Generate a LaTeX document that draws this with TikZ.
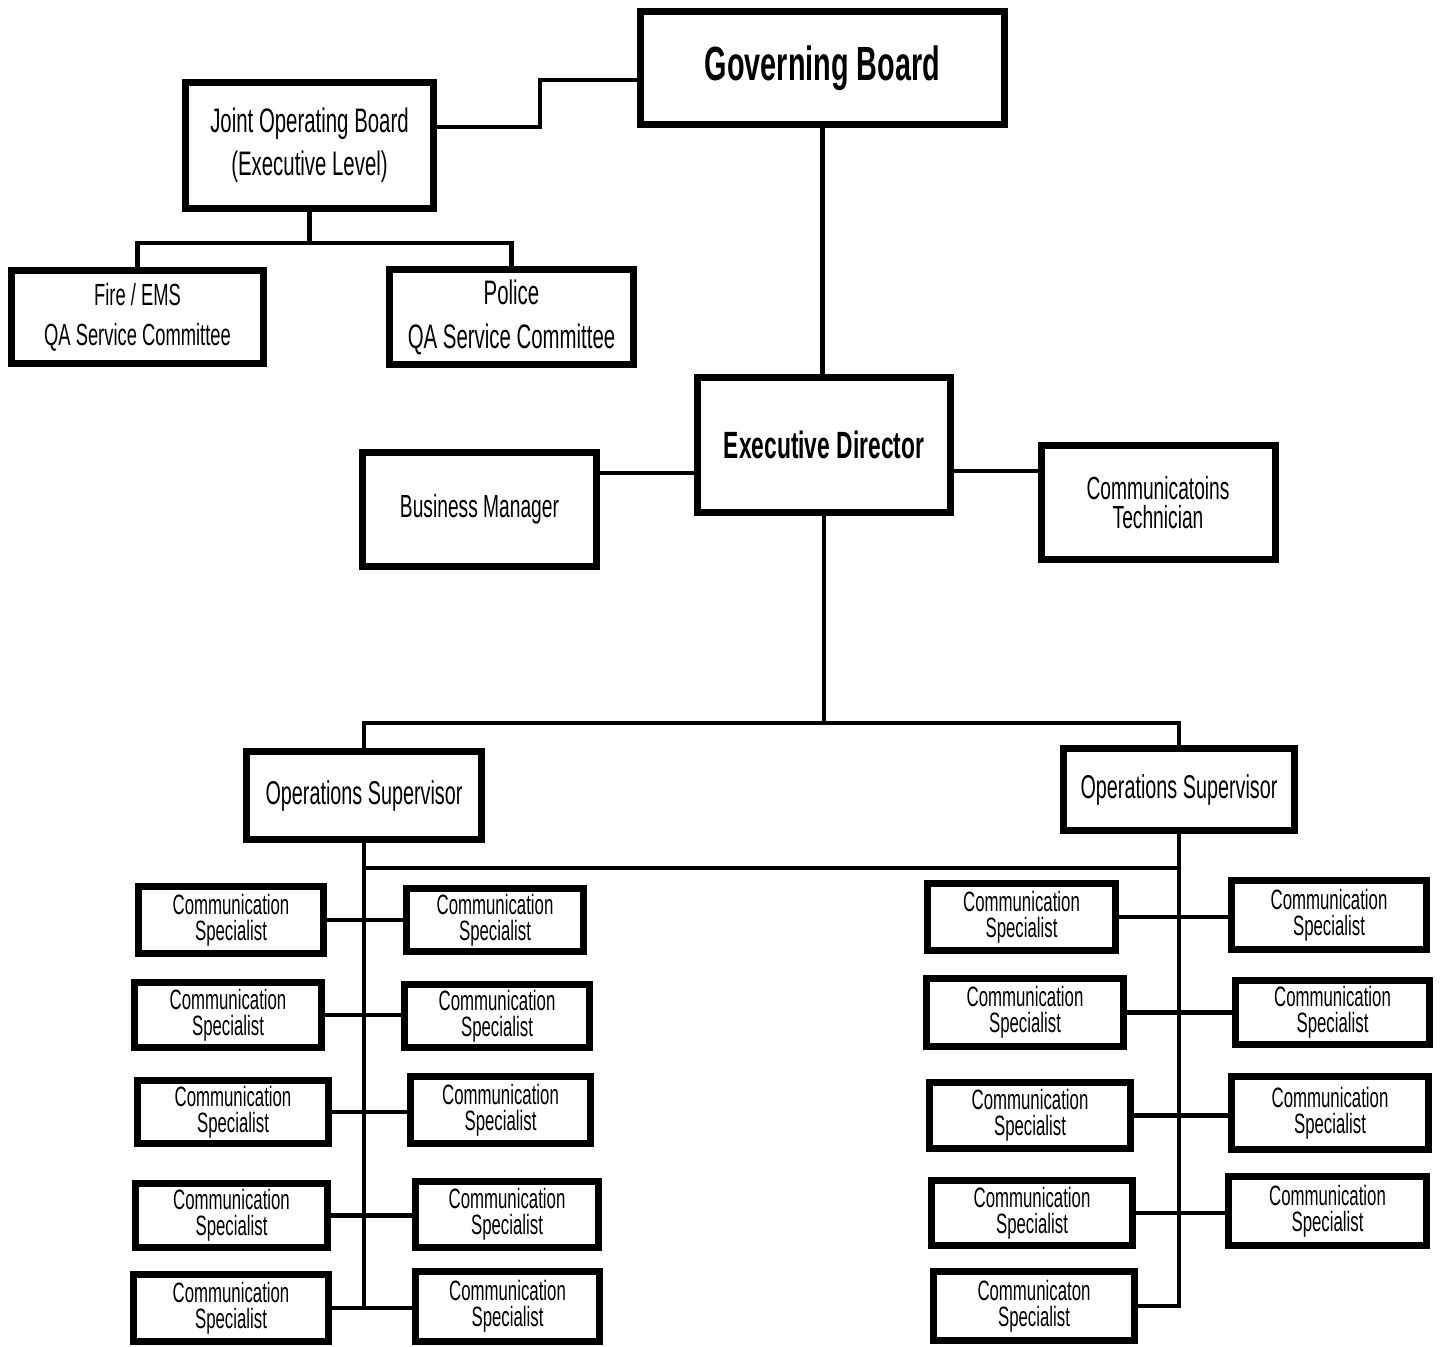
\documentclass[tikz,border=0pt]{standalone}
\usepackage{fontspec}
\setmainfont{Liberation Sans}[FakeStretch=0.6]

\tikzset{
  box/.style={draw, line width=3.5pt, align=center, inner sep=0pt},
  spec/.style={box, font=\fontsize{14}{13}\selectfont},
  link/.style={line width=2.2pt},
}

\begin{document}
\begin{tikzpicture}[x=0.5pt, y=-0.5pt]
    \useasboundingbox (0,0) rectangle (1441,1347);

    % boards
    \node[box, minimum width=182pt, minimum height=56.5pt,
      font=\bfseries\fontsize{24}{26}\selectfont] (GB) at (822.5,68) {Governing Board};
    \node[box, minimum width=124pt, minimum height=63pt,
      font=\fontsize{17}{21.5}\selectfont] (JOB) at (309.5,145.5)
      {Joint Operating Board\\(Executive Level)};
    \node[box, minimum width=126pt, minimum height=46.5pt,
      font=\fontsize{15.3}{20}\selectfont] (FE) at (137.5,317)
      {Fire / EMS\\QA Service Committee};
    \node[box, minimum width=122pt, minimum height=47.5pt,
      font=\fontsize{17}{22}\selectfont] (PO) at (511.5,317)
      {Police\\QA Service Committee};

    % director level
    \node[box, minimum width=126.5pt, minimum height=67.5pt,
      font=\bfseries\fontsize{19}{21}\selectfont] (ED) at (824,445) {Executive Director};
    \node[box, minimum width=117pt, minimum height=57pt,
      font=\fontsize{16}{18}\selectfont] (BM) at (479.5,509.5) {Business Manager};
    \node[box, minimum width=117pt, minimum height=57pt,
      font=\fontsize{16}{14.5}\selectfont] (CT) at (1158,502.5)
      {Communicatoins\\Technician};

    % supervisors
    \node[box, minimum width=117.5pt, minimum height=44pt,
      font=\fontsize{16.5}{18}\selectfont] (OS1) at (364,795.5) {Operations Supervisor};
    \node[box, minimum width=115.5pt, minimum height=41pt,
      font=\fontsize{16.5}{18}\selectfont] (OS2) at (1179,789.5) {Operations Supervisor};

    % specialists
    \foreach \n/\x/\y/\w/\h/\t in {
      LL1/231/920/92.5pt/33.5pt/Communication,
      LL2/228/1015/93.5pt/32.5pt/Communication,
      LL3/233/1112/95.5pt/31.5pt/Communication,
      LL4/231.5/1215.5/96pt/32pt/Communication,
      LL5/231/1308/97.5pt/33.5pt/Communication,
      LR1/495/920/88.5pt/31.5pt/Communication,
      LR2/497/1016/92.5pt/31.5pt/Communication,
      LR3/500.5/1110/90pt/33.5pt/Communication,
      LR4/507/1214.5/91.5pt/33pt/Communication,
      LR5/507.5/1306.5/92pt/35pt/Communication,
      RL1/1021.5/917/94pt/33.5pt/Communication,
      RL2/1025/1012.5/98.5pt/34pt/Communication,
      RL3/1030/1115.5/100.5pt/33pt/Communication,
      RL4/1032/1213/100.5pt/32.5pt/Communication,
      RL5/1034/1306/100.5pt/34.5pt/Communicaton,
      RR1/1329/915/97.5pt/34.5pt/Communication,
      RR2/1332.5/1012.5/97pt/32pt/Communication,
      RR3/1330/1113/98.5pt/36.5pt/Communication,
      RR4/1327.5/1211/99pt/34.5pt/Communication}
      \node[spec, minimum width=\w, minimum height=\h] (\n) at (\x,\y) {\t\\Specialist};

    % connectors
    \coordinate (jbus) at (0,243);
    \coordinate (sbus) at (0,723);
    \coordinate (lnk) at (0,868);
    \coordinate (edl) at ([yshift=-14pt]ED.west);
    \coordinate (edr) at ([yshift=-13pt]ED.east);

    \draw[link] ([yshift=9.25pt]JOB.east) -- ++(51.5pt,0) |- ([yshift=-6pt]GB.west);
    \draw[link] (JOB.south) -- (JOB.south |- jbus);
    \draw[link] (FE.north) -- (FE.north |- jbus) -- (PO.north |- jbus) -- (PO.north);
    \draw[link] (GB.south) -- (GB.south |- ED.north);
    \draw[link] (edl) -- (edl -| BM.east);
    \draw[link] (edr) -- (edr -| CT.west);
    \draw[link] (ED.south) -- (ED.south |- sbus);
    \draw[link] (OS1.north) -- (OS1.north |- sbus) -- (OS2.north |- sbus) -- (OS2.north);
    \draw[link] (OS1.south |- lnk) -- (OS2.south |- lnk);
    \draw[link] (OS1.south) -- (OS1.south |- LL5.east);
    \draw[link] (OS2.south) -- (OS2.south |- RL5.east) -- (RL5.east);
    \foreach \i in {1,...,5}
      \draw[link] (LL\i.east) -- (LL\i.east -| LR\i.west);
    \foreach \i in {1,...,4}
      \draw[link] (RL\i.east) -- (RL\i.east -| RR\i.west);
\end{tikzpicture}
\end{document}
